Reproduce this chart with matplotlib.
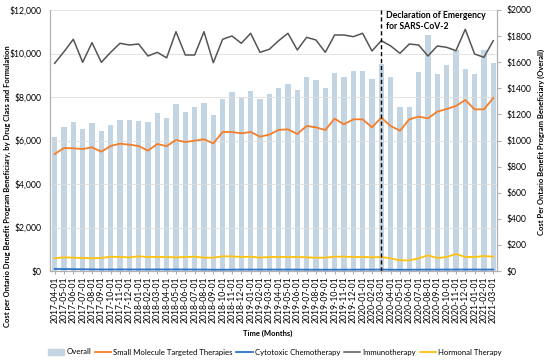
import numpy as np
import matplotlib
matplotlib.use("Agg")
import matplotlib.pyplot as plt
from matplotlib.patches import Patch
from matplotlib.lines import Line2D

plt.rcParams["font.family"] = ["Lato", "DejaVu Sans"]

months = [f"{y}-{m:02d}-01" for y, m in
          [(2017 + (3 + k) // 12, (3 + k) % 12 + 1) for k in range(48)]]

# right axis (overall, bars)
overall = [1029, 1106, 1139, 1086, 1132, 1073, 1121, 1155, 1157, 1152, 1142, 1213,
           1172, 1277, 1218, 1259, 1287, 1195, 1318, 1372, 1328, 1382, 1318, 1354,
           1400, 1433, 1387, 1484, 1464, 1400, 1520, 1489, 1535, 1535, 1474, 1586,
           1484, 1254, 1259, 1527, 1808, 1510, 1579, 1693, 1548, 1510, 1693, 1596]

# left axis (by drug class)
small_mol = [5379, 5655, 5641, 5609, 5686, 5487, 5747, 5854, 5808, 5747, 5533, 5839,
             5740, 6023, 5931, 5992, 6054, 5870, 6391, 6391, 6329, 6391, 6176, 6268,
             6490, 6513, 6299, 6667, 6605, 6483, 7004, 6743, 6973, 6973, 6605, 7050,
             6667, 6452, 6973, 7096, 7019, 7326, 7448, 7586, 7862, 7433, 7433, 7954]
immuno = [9549, 10083, 10653, 9595, 10497, 9595, 10055, 10469, 10391, 10437, 9885, 10055,
          9800, 11002, 9931, 9931, 11002, 9577, 10653, 10805, 10469, 10929, 10055, 10193,
          10589, 10929, 10161, 10744, 10621, 10055, 10851, 10851, 10773, 10929, 10115, 10589,
          10350, 10009, 10437, 10391, 9885, 10345, 10285, 10129, 11113, 9977, 9825, 10589]
hormonal = [583, 628, 613, 598, 583, 598, 659, 644, 628, 674, 644, 644,
            644, 628, 644, 659, 613, 613, 674, 674, 644, 659, 613, 644,
            644, 644, 644, 628, 613, 613, 659, 659, 644, 644, 628, 644,
            582, 490, 490, 582, 720, 598, 644, 782, 644, 644, 690, 659]
cytotoxic = [95, 90, 85, 80, 75, 70, 70, 72, 72, 70, 70, 72,
             70, 72, 70, 68, 66, 60, 60, 62, 65, 66, 66, 66,
             65, 66, 64, 62, 60, 60, 60, 62, 62, 64, 64, 66,
             60, 58, 60, 62, 64, 64, 66, 66, 68, 68, 66, 66]

emergency_idx = months.index("2020-03-01")

C_BAR = "#c3d4e3"
C_ORANGE = "#f47f2a"
C_BLUE = "#2e74c9"
C_GRAY = "#555555"
C_YELLOW = "#ffc20e"
FS = 6.2
FS_LAB = 5.5

fig = plt.figure(figsize=(5.5, 3.6), dpi=100)
ax = fig.add_axes([50 / 550, 1 - 271 / 360, 447 / 550, 261 / 360])
ax2 = ax.twinx()

x = np.arange(len(months))
ax2.bar(x, overall, width=0.55, color=C_BAR, zorder=1)
ax2.set_ylim(0, 2000)
ax2.set_yticks(range(0, 2001, 200))
ax2.set_yticklabels([f"${v}" for v in range(0, 2001, 200)], fontsize=FS)

ax.set_zorder(ax2.get_zorder() + 1)
ax.patch.set_visible(False)

ax.plot(x, small_mol, color=C_ORANGE, lw=1.3)
ax.plot(x, cytotoxic, color=C_BLUE, lw=1.3)
ax.plot(x, immuno, color=C_GRAY, lw=1.1)
ax.plot(x, hormonal, color=C_YELLOW, lw=1.3)
ax.axvline(emergency_idx, color="black", lw=1, ls=(0, (3, 2)))

ax.set_ylim(0, 12000)
ax.set_yticks(range(0, 12001, 2000))
ax.set_yticklabels([f"${v:,}" for v in range(0, 12001, 2000)], fontsize=FS)
ax.yaxis.grid(True, color="#dedede", lw=0.6)
ax.set_axisbelow(True)
ax.set_xlim(-0.5, 47.4)
ax.set_xticks(x)
ax.set_xticklabels(months, rotation=90, fontsize=FS)

for a in (ax, ax2):
    a.spines["top"].set_visible(False)
    for s in ("left", "right", "bottom"):
        a.spines[s].set_color("#b0b0b0")
        a.spines[s].set_linewidth(0.8)
ax.tick_params(axis="y", length=0, pad=6)
ax.tick_params(axis="x", length=2, color="#b0b0b0", pad=2)
ax2.tick_params(axis="y", length=3, color="#b0b0b0", pad=4)

ax.text(emergency_idx + 0.5, 11950, "Declaration of Emergency\nfor SARS-CoV-2",
        fontsize=FS, fontweight="bold", va="top", ha="left", linespacing=1.3)

fig.text(0.013, 1 - 186 / 360,
         "Cost per Ontario Drug Benefit Program Beneficiary, by Drug Class and Formulation",
         rotation=90, ha="center", va="center", fontsize=FS_LAB, fontweight="bold")
fig.text(0.984, 1 - 142 / 360, "Cost Per Ontario Benefit Program Beneficiary (Overall)",
         rotation=90, ha="center", va="center", fontsize=FS_LAB, fontweight="bold")
fig.text(268 / 550, 1 - 333 / 360, "Time (Months)", ha="center", va="center",
         fontsize=FS_LAB, fontweight="bold")

handles = [Patch(color=C_BAR, label="Overall"),
           Line2D([], [], color=C_ORANGE, lw=1.3, label="Small Molecule Targeted Therapies"),
           Line2D([], [], color=C_BLUE, lw=1.3, label="Cytotoxic Chemotherapy"),
           Line2D([], [], color=C_GRAY, lw=1.1, label="Immunotherapy"),
           Line2D([], [], color=C_YELLOW, lw=1.3, label="Hormonal Therapy")]
fig.legend(handles=handles, loc="center", bbox_to_anchor=(275 / 550, 1 - 352 / 360),
           ncol=5, fontsize=5.6, frameon=False, handlelength=2.1, handletextpad=0.3,
           columnspacing=0.45, handleheight=0.9)

fig.savefig("out.png", dpi=100)
